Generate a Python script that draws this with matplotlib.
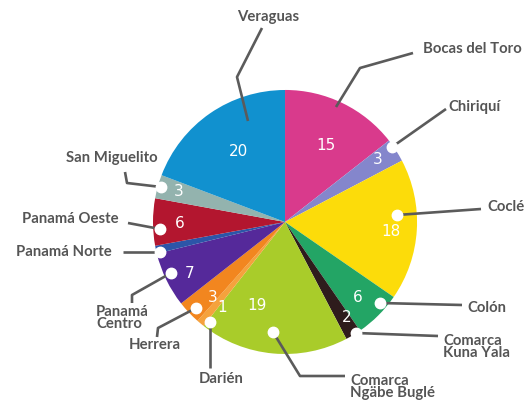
import matplotlib
matplotlib.use("Agg")
import matplotlib.pyplot as plt

# slices, clockwise from 12 o'clock
provinces = ["Bocas del Toro", "Chiriquí", "Coclé", "Colón", "Comarca\nKuna Yala",
             "Comarca\nNgäbe Buglé", "Darién", "Herrera", "Panamá\nCentro",
             "Panamá Norte", "Panamá Oeste", "San Miguelito", "Veraguas"]
counts = [15, 3, 18, 6, 2, 19, 1, 3, 7, 1, 6, 3, 20]
shown = ["15", "3", "18", "6", "2", "19", "1", "3", "7", "", "6", "3", "20"]
colors = ["#d93a8c", "#8486cc", "#fcdc0a", "#23a565", "#2e1c1c", "#a9cc2a", "#f5a23d",
          "#f2861f", "#55299a", "#2c55a8", "#b3162f", "#93b3ae", "#1191cf"]
explode = [0.05, 0.03, 0.05, 0.02, 0, 0, 0, 0, 0, 0, 0, 0, 0]

# layout in pixels: number position, dot, elbow points, text anchor, alignment
num_pos = [(326, 145), (378, 159), (391, 231), (358, 298), (347, 317), (257, 305),
           (222, 308), (213, 297), (190, 273), None, (180, 224), (179, 192), (238, 152)]
leaders = [
    # (dot or None, path, text xy, ha)
    (None, [(336, 107), (360, 68), (413, 53)], (423, 49), "left"),
    ((392, 147), [(392, 147), (446, 109)], (448, 107), "left"),
    ((397, 215), [(397, 215), (481, 209)], (487, 207), "left"),
    ((380, 303), [(380, 303), (462, 305)], (467, 308), "left"),
    ((356, 333), [(356, 333), (438, 336)], (443, 347), "left"),
    ((273, 332), [(273, 332), (300, 376), (345, 376)], (350, 387), "left"),
    ((210, 322), [(210, 322), (210, 368)], (221, 379), "center"),
    ((196, 308), [(196, 308), (158, 328), (157, 337)], (155, 345), "center"),
    ((171, 273), [(171, 273), (132, 295), (132, 303)], (96, 318), "left"),
    ((160, 252), [(160, 252), (123, 252)], (112, 252), "right"),
    ((160, 229), [(160, 229), (128, 223)], (119, 219), "right"),
    ((161, 187), [(161, 187), (127, 183), (125, 172)], (112, 158), "center"),
    (None, [(248, 121), (237, 77), (262, 28)], (268, 17), "center"),
]

W, H = 529, 404
fig = plt.figure(figsize=(W / 100, H / 100), dpi=100)
ax = fig.add_axes([0, 0, 1, 1])

ax.pie(counts, colors=colors, explode=explode, center=(285, 222), radius=132,
       startangle=-90, counterclock=True, frame=True,
       wedgeprops=dict(linewidth=0))
ax.set_xlim(0, W)
ax.set_ylim(H, 0)
ax.set_aspect("equal")
ax.axis("off")

for txt, pos in zip(shown, num_pos):
    if pos and txt:
        ax.text(pos[0], pos[1], txt, color="white", fontsize=11,
                ha="center", va="center", family="DejaVu Sans")

line_col = "#5b5b5b"
for name, (dot, path, tpos, ha) in zip(provinces, leaders):
    xs = [p[0] for p in path]
    ys = [p[1] for p in path]
    ax.plot(xs, ys, color=line_col, lw=1.9, solid_capstyle="butt", zorder=4)
    if dot:
        ax.plot(dot[0], dot[1], "o", ms=7.5, color="white", mec="white", zorder=5)
    ax.text(tpos[0], tpos[1], name, color="#555555", fontsize=10.7, fontweight="bold",
            family="Lato", ha=ha, va="center", linespacing=0.9)

fig.savefig("out.png", dpi=100, facecolor="white")
